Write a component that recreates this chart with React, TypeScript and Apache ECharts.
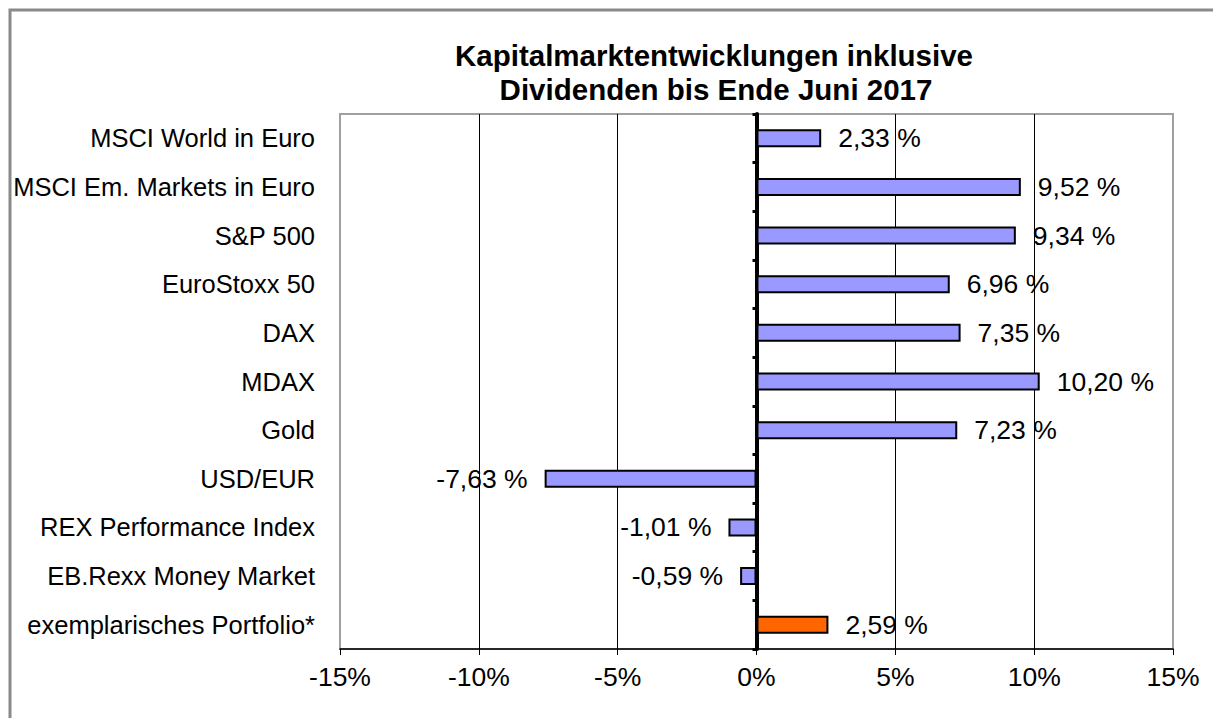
import React, { useEffect, useRef } from "react";
import * as echarts from "echarts";

const categories = [
  "MSCI World in Euro",
  "MSCI Em. Markets in Euro",
  "S&P 500",
  "EuroStoxx 50",
  "DAX",
  "MDAX",
  "Gold",
  "USD/EUR",
  "REX Performance Index",
  "EB.Rexx Money Market",
  "exemplarisches Portfolio*",
];
const values = [2.33, 9.52, 9.34, 6.96, 7.35, 10.2, 7.23, -7.63, -1.01, -0.59, 2.59];
const highlightIndex = 10;
const titleLines = ["Kapitalmarktentwicklungen inklusive", "Dividenden bis Ende Juni 2017"];
const xMin = -15;
const xMax = 15;
const xStep = 5;

const FONT = "'Liberation Sans', Arial, sans-serif";

export default function App() {
  const ref = useRef<HTMLDivElement>(null);
  useEffect(() => {
    if (!ref.current) return;
    const chart = echarts.init(ref.current, null, { renderer: "svg" });
    const data = values.map((v, i) => ({
      value: v,
      itemStyle: { color: i === highlightIndex ? "#FF6600" : "#9999FF" },
      label: { position: v < 0 ? "left" : "right" },
    }));
    chart.setOption({
      animation: false,
      backgroundColor: "#ffffff",
      textStyle: { fontFamily: FONT },
      graphic: [
        {
          type: "rect",
          shape: { x: 10, y: 10, width: 1260, height: 800 },
          style: { fill: "none", stroke: "#8a8a8a", lineWidth: 3 },
          z: 0,
        },
        {
          type: "text",
          x: 714,
          y: 55,
          style: {
            text: titleLines[0],
            font: `bold 29.5px ${FONT}`,
            fill: "#000",
            textAlign: "center",
            textVerticalAlign: "middle",
          },
        },
        {
          type: "text",
          x: 716,
          y: 89,
          style: {
            text: titleLines[1],
            font: `bold 29.5px ${FONT}`,
            fill: "#000",
            textAlign: "center",
            textVerticalAlign: "middle",
          },
        },
      ],
      grid: {
        left: 340,
        right: 40,
        top: 114,
        bottom: 69,
        show: true,
        borderColor: "#a0a0a0",
        borderWidth: 2,
        containLabel: false,
      },
      xAxis: {
        type: "value",
        min: xMin,
        max: xMax,
        interval: xStep,
        position: "bottom",
        axisLine: { show: true, lineStyle: { color: "#000", width: 1.5 } },
        axisTick: { show: true, length: 6, lineStyle: { color: "#000", width: 1 } },
        axisLabel: {
          formatter: (v: number) => `${v}%`,
          color: "#000",
          fontSize: 26.5,
          fontFamily: FONT,
          margin: 14,
        },
        splitLine: {
          show: true,
          showMinLine: false,
          showMaxLine: false,
          lineStyle: { color: "#000", width: 1 },
        },
      },
      yAxis: [
        {
          type: "category",
          data: categories,
          inverse: true,
          position: "left",
          axisLine: { show: false, onZero: false },
          axisTick: { show: false },
          axisLabel: { color: "#000", fontSize: 25.5, fontFamily: FONT, margin: 25 },
          splitLine: { show: false },
        },
        {
          type: "category",
          data: categories,
          inverse: true,
          position: "left",
          axisLine: { show: true, onZero: true, lineStyle: { color: "#000", width: 4 } },
          axisTick: { show: true, length: 4, lineStyle: { color: "#000", width: 3 } },
          axisLabel: { show: false },
          splitLine: { show: false },
        },
      ],
      series: [
        {
          type: "bar",
          data,
          yAxisIndex: 0,
          barWidth: 18,
          itemStyle: { borderColor: "#000", borderWidth: 2 },
          label: {
            show: true,
            distance: 17,
            color: "#000",
            fontSize: 26.5,
            fontFamily: FONT,
            formatter: (p: any) => `${Number(p.value).toFixed(2).replace(".", ",")} %`,
          },
        },
      ],
    });
    return () => chart.dispose();
  }, []);
  return (
    <div
      ref={ref}
      style={{ position: "fixed", left: 0, top: 0, width: 1213, height: 718 }}
    />
  );
}
